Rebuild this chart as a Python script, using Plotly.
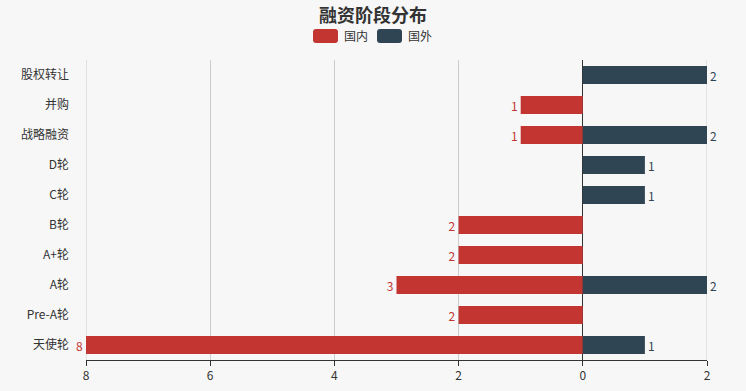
import plotly.graph_objects as go

categories = ["天使轮", "Pre-A轮", "A轮", "A+轮", "B轮", "C轮", "D轮", "战略融资", "并购", "股权转让"]
domestic = [8, 2, 3, 2, 2, 0, 0, 1, 1, 0]
foreign = [1, 0, 2, 0, 0, 1, 1, 2, 0, 2]
x_tickvals = [-8, -6, -4, -2, 0, 2]
x_ticktext = ["8", "6", "4", "2", "0", "2"]

RED = "#c23531"
DARK = "#2f4554"
FONT = "Noto Sans CJK SC"
BG = "#f7f7f7"
GRID = "#cccccc"

W, H = 746, 391
L, R, T, B = 86, 39, 60, 31
PW, PH = W - L - R, H - T - B

fig = go.Figure()
fig.add_trace(go.Bar(
    y=categories, x=[-v if v else None for v in domestic], orientation="h",
    name="国内", marker=dict(color=RED, line=dict(width=0)),
    text=[str(v) if v else "" for v in domestic], textposition="outside",
    textfont=dict(color=RED, size=12, family=FONT), cliponaxis=False,
))
fig.add_trace(go.Bar(
    y=categories, x=[v if v else None for v in foreign], orientation="h",
    name="国外", marker=dict(color=DARK, line=dict(width=0)),
    text=[str(v) if v else "" for v in foreign], textposition="outside",
    textfont=dict(color=DARK, size=12, family=FONT), cliponaxis=False,
))

fig.update_layout(
    width=W, height=H,
    margin=dict(l=L, r=R, t=T, b=B, autoexpand=False),
    paper_bgcolor=BG, plot_bgcolor=BG,
    barmode="relative", bargap=0.4,
    showlegend=False,
    font=dict(family=FONT, size=12, color="#333"),
    title=dict(text="<b>融资阶段分布</b>", x=0.5, xanchor="center", xref="container",
               y=1 - 16 / H, yanchor="middle",
               font=dict(size=18, color="#333", family=FONT)),
    xaxis=dict(range=[-8, 2], tickvals=x_tickvals, ticktext=x_ticktext,
               showgrid=True, gridcolor=GRID, gridwidth=1,
               zeroline=True, zerolinecolor="#333", zerolinewidth=1,
               showline=True, linecolor="#333", linewidth=1,
               ticks="outside", ticklen=5, tickcolor="#333", automargin=False,
               tickfont=dict(size=12, color="#333"), fixedrange=True),
    yaxis=dict(showgrid=False, zeroline=False, showline=False, ticks="",
               ticklabelstandoff=16, automargin=False,
               tickfont=dict(size=12, color="#333"),
               range=[-0.5, 9.5]),
)

# grid lines at the two range ends (plotly omits them at the edges)
for xv in (x_tickvals[0], x_tickvals[-1]):
    fig.add_shape(type="line", xref="x", yref="paper", x0=xv, x1=xv, y0=0, y1=1,
                  line=dict(color=GRID, width=1), layer="below")

def px2x(px):
    return (px - L) / PW

def py2y(py):
    return (H - B - py) / PH

def rrect(x0, y0, x1, y1, rx, ry):
    return (f"M{x0+rx},{y0} L{x1-rx},{y0} Q{x1},{y0} {x1},{y0+ry} L{x1},{y1-ry} Q{x1},{y1} {x1-rx},{y1} "
            f"L{x0+rx},{y1} Q{x0},{y1} {x0},{y1-ry} L{x0},{y0+ry} Q{x0},{y0} {x0+rx},{y0} Z")

legend_items = [("国内", RED, 313), ("国外", DARK, 377)]
for label, col, px in legend_items:
    x0, x1 = px2x(px), px2x(px + 25)
    y0, y1 = py2y(43), py2y(29)
    fig.add_shape(type="path", xref="paper", yref="paper",
                  path=rrect(x0, y0, x1, y1, 3 / PW, 3 / PH), fillcolor=col, line=dict(width=0))
    fig.add_annotation(text=label, xref="paper", yref="paper", x=px2x(px + 29), y=py2y(36),
                       xanchor="left", yanchor="middle", showarrow=False,
                       font=dict(size=12, color="#333", family=FONT))

fig.write_html("out.html", config={"displayModeBar": False},
               post_script="document.body.style.margin='0';document.body.style.background='%s';" % BG)
